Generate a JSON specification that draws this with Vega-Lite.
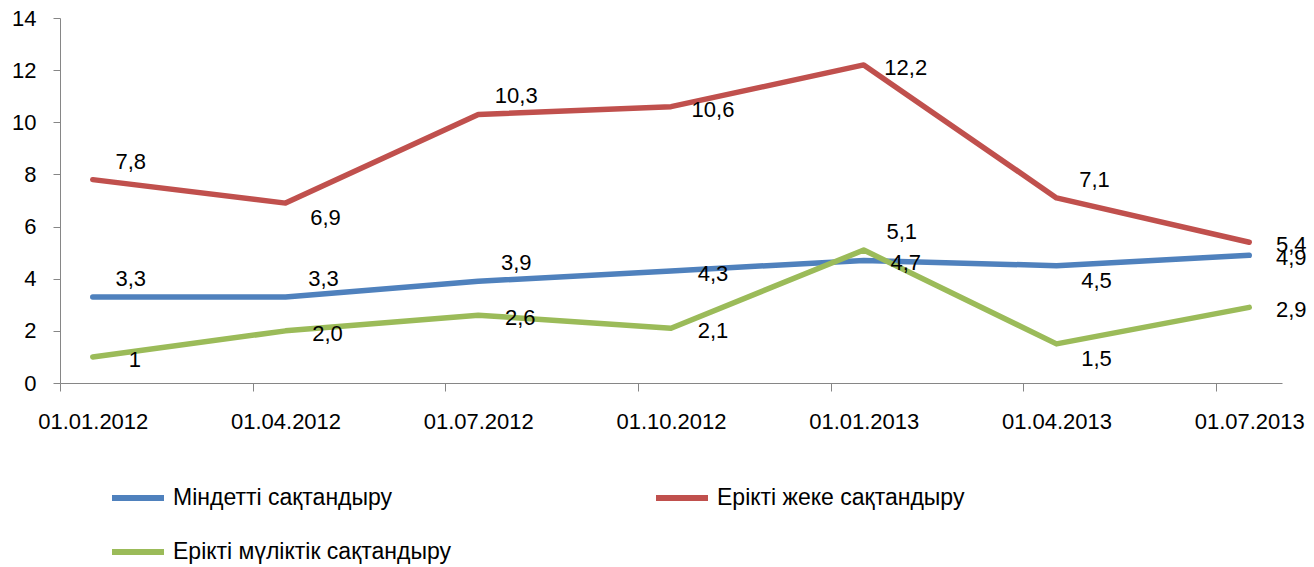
{
  "$schema": "https://vega.github.io/schema/vega-lite/v6.json",
  "width": 1222,
  "height": 365,
  "autosize": "none",
  "padding": {"left": 60, "top": 18, "right": 32, "bottom": 184},
  "background": "white",
  "data": {
    "values": [
      {"date": "01.01.2012", "series": "Міндетті сақтандыру", "value": 3.3, "label": "3,3"},
      {"date": "01.04.2012", "series": "Міндетті сақтандыру", "value": 3.3, "label": "3,3"},
      {"date": "01.07.2012", "series": "Міндетті сақтандыру", "value": 3.9, "label": "3,9"},
      {"date": "01.10.2012", "series": "Міндетті сақтандыру", "value": 4.3, "label": "4,3"},
      {"date": "01.01.2013", "series": "Міндетті сақтандыру", "value": 4.7, "label": "4,7"},
      {"date": "01.04.2013", "series": "Міндетті сақтандыру", "value": 4.5, "label": "4,5"},
      {"date": "01.07.2013", "series": "Міндетті сақтандыру", "value": 4.9, "label": "4,9"},
      {"date": "01.01.2012", "series": "Ерікті жеке сақтандыру", "value": 7.8, "label": "7,8"},
      {"date": "01.04.2012", "series": "Ерікті жеке сақтандыру", "value": 6.9, "label": "6,9"},
      {"date": "01.07.2012", "series": "Ерікті жеке сақтандыру", "value": 10.3, "label": "10,3"},
      {"date": "01.10.2012", "series": "Ерікті жеке сақтандыру", "value": 10.6, "label": "10,6"},
      {"date": "01.01.2013", "series": "Ерікті жеке сақтандыру", "value": 12.2, "label": "12,2"},
      {"date": "01.04.2013", "series": "Ерікті жеке сақтандыру", "value": 7.1, "label": "7,1"},
      {"date": "01.07.2013", "series": "Ерікті жеке сақтандыру", "value": 5.4, "label": "5,4"},
      {"date": "01.01.2012", "series": "Ерікті мүліктік сақтандыру", "value": 1.0, "label": "1"},
      {"date": "01.04.2012", "series": "Ерікті мүліктік сақтандыру", "value": 2.0, "label": "2,0"},
      {"date": "01.07.2012", "series": "Ерікті мүліктік сақтандыру", "value": 2.6, "label": "2,6"},
      {"date": "01.10.2012", "series": "Ерікті мүліктік сақтандыру", "value": 2.1, "label": "2,1"},
      {"date": "01.01.2013", "series": "Ерікті мүліктік сақтандыру", "value": 5.1, "label": "5,1"},
      {"date": "01.04.2013", "series": "Ерікті мүліктік сақтандыру", "value": 1.5, "label": "1,5"},
      {"date": "01.07.2013", "series": "Ерікті мүліктік сақтандыру", "value": 2.9, "label": "2,9"}
    ]
  },
  "transform": [{"calculate": "datum.series + '|' + datum.date", "as": "key"}],
  "encoding": {
    "x": {
      "field": "date", "type": "ordinal", "sort": null,
      "scale": {"type": "point", "padding": 0.17},
      "axis": {
        "title": null, "labelAngle": 0, "tickOffset": -33, "labelOffset": 33,
        "domainColor": "#868686", "tickColor": "#868686", "tickSize": 8,
        "labelFont": "Liberation Sans", "labelFontSize": 22, "labelColor": "#000000",
        "labelPadding": 20, "grid": false
      }
    },
    "y": {
      "field": "value", "type": "quantitative",
      "scale": {"domain": [0, 14], "nice": false, "zero": true},
      "axis": {
        "title": null, "values": [0, 2, 4, 6, 8, 10, 12, 14], "grid": false,
        "domainColor": "#868686", "tickColor": "#868686", "tickSize": 7,
        "labelFont": "Liberation Sans", "labelFontSize": 22, "labelColor": "#000000",
        "labelPadding": 17
      }
    }
  },
  "layer": [
    {
      "mark": {"type": "line", "strokeWidth": 5.5, "strokeCap": "round", "strokeJoin": "round"},
      "encoding": {
        "color": {
          "field": "series", "type": "nominal",
          "scale": {
            "domain": ["Міндетті сақтандыру", "Ерікті жеке сақтандыру", "Ерікті мүліктік сақтандыру"],
            "range": ["#4F81BD", "#C0504D", "#9BBB59"]
          },
          "legend": {
            "title": null, "orient": "none", "direction": "horizontal", "legendX": 49, "legendY": 451,
            "columns": 2, "columnPadding": 193, "rowPadding": 13,
            "symbolType": "stroke", "symbolSize": 2704, "symbolStrokeWidth": 6,
            "labelFont": "Liberation Sans", "labelFontSize": 23, "labelColor": "#000000",
            "labelOffset": 6, "labelLimit": 400
          }
        }
      }
    },
    {
      "transform": [{"filter": {"field": "key", "oneOf": [
        "Ерікті жеке сақтандыру|01.01.2012", "Ерікті жеке сақтандыру|01.07.2012", "Ерікті жеке сақтандыру|01.04.2013",
        "Міндетті сақтандыру|01.01.2012", "Міндетті сақтандыру|01.04.2012", "Міндетті сақтандыру|01.07.2012",
        "Ерікті мүліктік сақтандыру|01.01.2013"]}}],
      "mark": {"type": "text", "dx": 38, "dy": -18, "font": "Liberation Sans", "fontSize": 22, "color": "#000000"},
      "encoding": {"text": {"field": "label"}}
    },
    {
      "transform": [{"filter": {"field": "key", "oneOf": [
        "Ерікті жеке сақтандыру|01.04.2012", "Міндетті сақтандыру|01.04.2013", "Ерікті мүліктік сақтандыру|01.04.2013"]}}],
      "mark": {"type": "text", "dx": 40, "dy": 15, "font": "Liberation Sans", "fontSize": 22, "color": "#000000"},
      "encoding": {"text": {"field": "label"}}
    },
    {
      "transform": [{"filter": {"not": {"field": "key", "oneOf": [
        "Ерікті жеке сақтандыру|01.01.2012", "Ерікті жеке сақтандыру|01.07.2012", "Ерікті жеке сақтандыру|01.04.2013",
        "Міндетті сақтандыру|01.01.2012", "Міндетті сақтандыру|01.04.2012", "Міндетті сақтандыру|01.07.2012",
        "Ерікті мүліктік сақтандыру|01.01.2013",
        "Ерікті жеке сақтандыру|01.04.2012", "Міндетті сақтандыру|01.04.2013", "Ерікті мүліктік сақтандыру|01.04.2013"]}}}],
      "mark": {"type": "text", "dx": 42, "dy": 3, "font": "Liberation Sans", "fontSize": 22, "color": "#000000"},
      "encoding": {"text": {"field": "label"}}
    }
  ],
  "config": {"view": {"stroke": null}}
}
